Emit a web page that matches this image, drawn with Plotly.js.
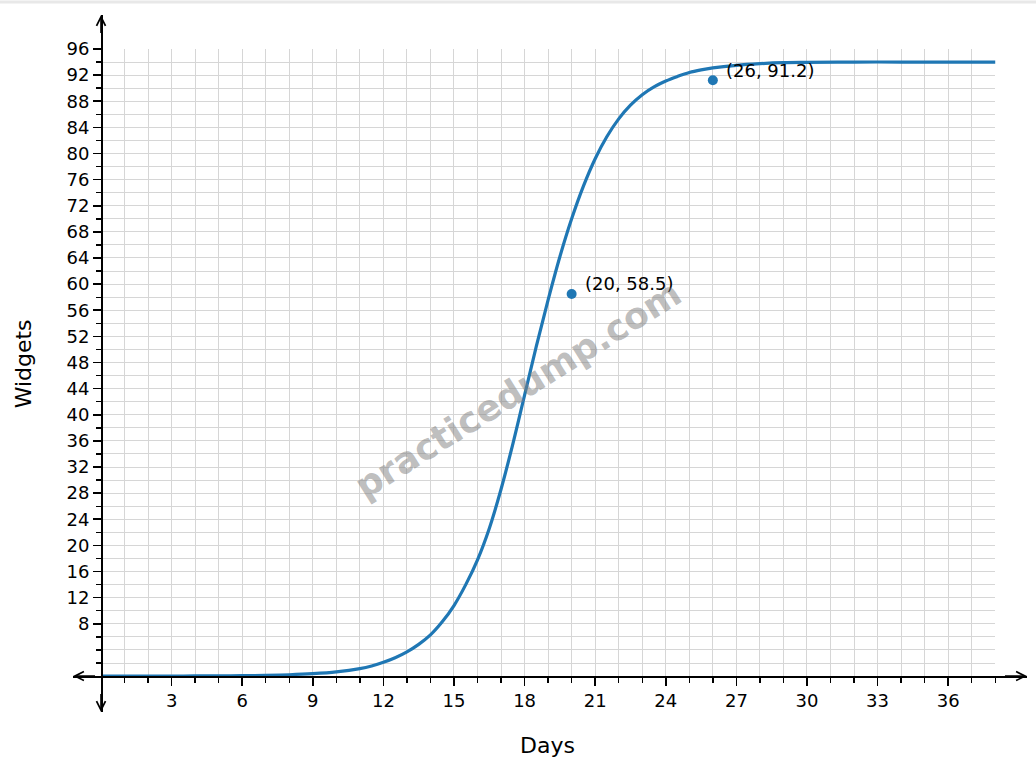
<!DOCTYPE html>
<html>
<head>
<meta charset="utf-8">
<script src="https://cdn.plot.ly/plotly-3.0.1.min.js"></script>
<style>html,body{margin:0;padding:0;background:#fff;}#chart{width:1036px;height:771px;}</style>
</head>
<body>
<div id="chart"></div>
<script>
// ---- data ----
const curveDays = [0, 1, 2, 3, 4, 5, 6, 7, 8, 9, 10, 11, 11.5, 12, 12.5, 13, 13.5, 14, 14.5, 15, 15.5, 16, 16.5, 17, 17.5, 18, 18.5, 19, 19.5, 20, 20.5, 21, 21.5, 22, 22.5, 23, 23.5, 24, 24.5, 25, 25.5, 26, 27, 28, 29, 30, 32, 34, 36, 38];
const curveWidgets = [0.0, 0.0, 0.01, 0.01, 0.02, 0.03, 0.06, 0.1, 0.2, 0.37, 0.65, 1.15, 1.55, 2.1, 2.8, 3.7, 4.85, 6.3, 8.3, 10.8, 14.0, 17.8, 22.6, 28.6, 35.5, 43.0, 50.5, 57.6, 64.2, 70.0, 75.0, 79.2, 82.6, 85.3, 87.4, 89.0, 90.2, 91.1, 91.8, 92.4, 92.8, 93.1, 93.5, 93.75, 93.9, 93.95, 94.0, 94.0, 94.0, 94.0];
const pointDays = [20, 26];
const pointWidgets = [58.5, 91.2];
const pointLabels = ["(20, 58.5)", "(26, 91.2)"];
const xTickVals = [3, 6, 9, 12, 15, 18, 21, 24, 27, 30, 33, 36];
const xTickText = ["3", "6", "9", "12", "15", "18", "21", "24", "27", "30", "33", "36"];
const yTickVals = [8, 12, 16, 20, 24, 28, 32, 36, 40, 44, 48, 52, 56, 60, 64, 68, 72, 76, 80, 84, 88, 92, 96];
const yTickText = ["8", "12", "16", "20", "24", "28", "32", "36", "40", "44", "48", "52", "56", "60", "64", "68", "72", "76", "80", "84", "88", "92", "96"];
const xMinorVals = [1, 2, 4, 5, 7, 8, 10, 11, 13, 14, 16, 17, 19, 20, 22, 23, 25, 26, 28, 29, 31, 32, 34, 35, 37, 38];
const yMinorVals = [2, 4, 6, 10, 14, 18, 22, 26, 30, 34, 38, 42, 46, 50, 54, 58, 62, 66, 70, 74, 78, 82, 86, 90, 94];
const xTitle = "Days";
const yTitle = "Widgets";
const watermark = "practicedump.com";

// ---- view extents ----
const XMIN = -1.19, XMAX = 39.35, YMIN = -5.5, YMAX = 101.2;
const GX0 = 0, GX1 = 38, GY0 = 0, GY1 = 96;
const fx = v => (v - XMIN) / (XMAX - XMIN);
const fy = v => (v - YMIN) / (YMAX - YMIN);

const font = "DejaVu Sans, Verdana, sans-serif";
const blue = "#1f77b4";

const traces = [
  {x: [], y: [], xaxis: "x", yaxis: "y", showlegend: false, hoverinfo: "skip"},
  {x: curveDays, y: curveWidgets, xaxis: "x2", yaxis: "y2", mode: "lines",
   line: {color: blue, width: 3.2, shape: "spline", smoothing: 1}, showlegend: false},
  {x: pointDays, y: pointWidgets, xaxis: "x2", yaxis: "y2", mode: "markers",
   marker: {color: blue, size: 10}, showlegend: false}
];

const annotations = [];
pointDays.forEach((d, i) => {
  annotations.push({x: d, y: pointWidgets[i], xref: "x2", yref: "y2", text: pointLabels[i],
    showarrow: false, xanchor: "left", yanchor: "middle", xshift: 11, yshift: 10,
    font: {family: font, size: 18, color: "#000"}});
});
// axis arrows
const arrowCommon = {xref: "x2", yref: "y2", axref: "x2", ayref: "y2", text: "", showarrow: true,
  arrowhead: 5, arrowsize: 1.1, arrowwidth: 1.6, arrowcolor: "#000", standoff: 0, startstandoff: 0};
annotations.push(Object.assign({}, arrowCommon, {x: XMAX, y: 0, ax: XMAX - 1, ay: 0}));
annotations.push(Object.assign({}, arrowCommon, {x: XMIN, y: 0, ax: XMIN + 1, ay: 0}));
annotations.push(Object.assign({}, arrowCommon, {x: 0, y: YMAX, ax: 0, ay: YMAX - 3}));
annotations.push(Object.assign({}, arrowCommon, {x: 0, y: YMIN, ax: 0, ay: YMIN + 3}));
// axis titles
annotations.push({xref: "paper", yref: "paper", x: 0.497, y: -0.048, text: xTitle, showarrow: false,
  xanchor: "center", yanchor: "middle", font: {family: font, size: 22, color: "#000"}});
annotations.push({xref: "paper", yref: "paper", x: -0.0515, y: 0.5, text: yTitle, showarrow: false,
  textangle: -90, xanchor: "center", yanchor: "middle", font: {family: font, size: 22, color: "#000"}});
// watermark
annotations.push({xref: "paper", yref: "paper", x: 0.4665, y: 0.462, text: watermark, showarrow: false,
  textangle: -32, xanchor: "center", yanchor: "middle",
  font: {family: font, size: 36, color: "rgba(128,128,128,0.52)", weight: "bold"}});

const layout = {
  width: 1036, height: 771,
  margin: {l: 73, r: 9, t: 15, b: 59},
  paper_bgcolor: "#fff", plot_bgcolor: "rgba(0,0,0,0)",
  font: {family: font, size: 18, color: "#000"},
  showlegend: false,
  shapes: [{type: "line", xref: "paper", yref: "paper", x0: -0.08, x1: 1.01, y0: 1.0187, y1: 1.0187,
    line: {color: "#e8e8e8", width: 3}}],
  xaxis: {domain: [fx(GX0), fx(GX1)], range: [GX0, GX1], anchor: "y", dtick: 1, tick0: 0,
    showgrid: true, gridcolor: "#d6d6d6", gridwidth: 1, showticklabels: false, ticks: "",
    zeroline: false, showline: false, fixedrange: true},
  yaxis: {domain: [fy(GY0), fy(GY1)], range: [GY0, GY1], anchor: "x", dtick: 2, tick0: 0,
    showgrid: true, gridcolor: "#d6d6d6", gridwidth: 1, showticklabels: false, ticks: "",
    zeroline: false, showline: false, fixedrange: true},
  xaxis2: {domain: [0, 1], range: [XMIN, XMAX], anchor: "free", position: fy(0),
    showgrid: false, zeroline: false, showline: true, linecolor: "#000", linewidth: 1.8,
    tickmode: "array", tickvals: xTickVals, ticktext: xTickText, ticks: "outside",
    ticklen: 8, tickwidth: 1.6, tickcolor: "#000",
    minor: {tickmode: "array", tickvals: xMinorVals, ticks: "outside", ticklen: 5, tickwidth: 1.4, tickcolor: "#000", showgrid: false},
    tickfont: {family: font, size: 18, color: "#000"}, fixedrange: true},
  yaxis2: {domain: [0, 1], range: [YMIN, YMAX], anchor: "free", position: fx(0),
    showgrid: false, zeroline: false, showline: true, linecolor: "#000", linewidth: 1.8,
    tickmode: "array", tickvals: yTickVals, ticktext: yTickText, ticks: "outside",
    ticklen: 8, tickwidth: 1.6, tickcolor: "#000", ticklabelstandoff: 0,
    minor: {tickmode: "array", tickvals: yMinorVals, ticks: "outside", ticklen: 5, tickwidth: 1.4, tickcolor: "#000", showgrid: false},
    tickfont: {family: font, size: 18, color: "#000"}, fixedrange: true},
  annotations: annotations
};

Plotly.newPlot("chart", traces, layout, {displayModeBar: false, staticPlot: true});
</script>
</body>
</html>
